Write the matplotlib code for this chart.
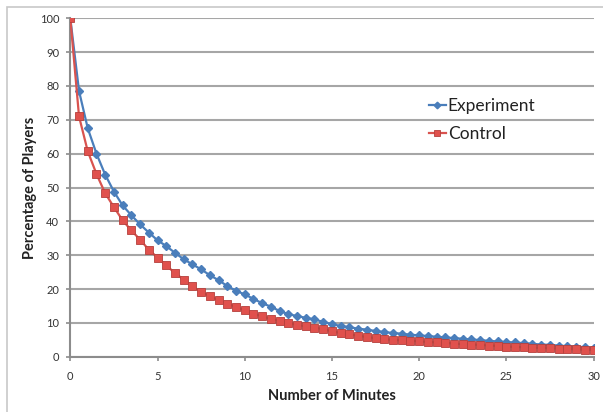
import matplotlib
matplotlib.use("Agg")
import matplotlib.pyplot as plt
from matplotlib.patches import Rectangle

plt.rcParams['font.family'] = ['Lato', 'DejaVu Sans']

# data, one point every half minute
minutes = [0, 0.5, 1, 1.5, 2, 2.5, 3, 3.5, 4, 4.5, 5, 5.5, 6, 6.5, 7, 7.5,
           8, 8.5, 9, 9.5, 10, 10.5, 11, 11.5, 12, 12.5, 13, 13.5, 14, 14.5,
           15, 15.5, 16, 16.5, 17, 17.5, 18, 18.5, 19, 19.5, 20, 20.5, 21,
           21.5, 22, 22.5, 23, 23.5, 24, 24.5, 25, 25.5, 26, 26.5, 27, 27.5,
           28, 28.5, 29, 29.5, 30]

experiment = [100, 78.5, 67.5, 60, 53.8, 48.8, 44.7, 41.8, 39.1, 36.7, 34.4,
              32.7, 30.7, 28.8, 27.3, 25.8, 24.1, 22.6, 20.9, 19.5, 18.4,
              17.1, 15.8, 14.8, 13.5, 12.6, 12.0, 11.5, 11.0, 10.3, 9.6, 9.1,
              8.7, 8.3, 8.0, 7.6, 7.3, 7.0, 6.8, 6.5, 6.3, 6.1, 5.9, 5.7, 5.5,
              5.3, 5.1, 4.9, 4.7, 4.5, 4.3, 4.2, 4.0, 3.8, 3.6, 3.5, 3.3, 3.1,
              3.0, 2.8, 2.7]

control = [100, 71, 60.7, 54, 48.3, 44.2, 40.3, 37.3, 34.6, 31.6, 29.3, 27.0,
           24.7, 22.8, 20.8, 19.1, 17.9, 16.7, 15.7, 14.7, 13.7, 12.7, 11.9,
           11.2, 10.5, 9.9, 9.4, 9.0, 8.6, 8.1, 7.5, 7.0, 6.6, 6.2, 5.8, 5.5,
           5.2, 5.0, 4.8, 4.7, 4.5, 4.4, 4.2, 4.1, 3.9, 3.7, 3.6, 3.5, 3.3,
           3.2, 3.0, 2.9, 2.8, 2.7, 2.6, 2.5, 2.4, 2.3, 2.2, 2.1, 2.0]

x_ticks = [0, 5, 10, 15, 20, 25, 30]
y_ticks = [0, 10, 20, 30, 40, 50, 60, 70, 80, 90, 100]

blue = '#4a7ebb'
red = '#d9534f'
grid_gray = '#a6a6a6'
axis_gray = '#8c8c8c'

fig = plt.figure(figsize=(6.03, 4.12), dpi=100)
fig.patch.set_facecolor('white')
# chart border, only top and left visible in the crop
fig.patches.append(Rectangle((7 / 603, -0.1), 1.2, 1 - 7 / 412 + 0.1,
                             transform=fig.transFigure, fill=False,
                             edgecolor='#c8c8c8', linewidth=1.2))

ax = fig.add_axes([0.1166, 0.1342, 0.8677, 0.8214])

ax.plot(minutes, experiment, color=blue, linewidth=1.6, marker='D',
        markersize=4.2, markerfacecolor=blue, markeredgecolor=blue,
        label='Experiment', zorder=3)
ax.plot(minutes, control, color=red, linewidth=1.6, marker='s',
        markersize=6, markerfacecolor='#e0514d', markeredgecolor='#b5403c',
        markeredgewidth=0.6, label='Control', zorder=4)

ax.set_xlim(0, 30)
ax.set_ylim(0, 100)
ax.set_xticks(x_ticks)
ax.set_yticks(y_ticks)
ax.yaxis.grid(True, color=grid_gray, linewidth=1.5)
ax.set_axisbelow(True)
ax.spines['top'].set_visible(False)
ax.spines['right'].set_visible(False)
ax.spines['left'].set_color(axis_gray)
ax.spines['bottom'].set_color(axis_gray)
ax.spines['left'].set_linewidth(1.5)
ax.spines['bottom'].set_linewidth(1.5)
ax.tick_params(axis='both', colors=axis_gray, labelcolor='#333333',
               labelsize=8, length=3, width=1.2)
ax.tick_params(axis='x', pad=7)
ax.tick_params(axis='y', pad=5)

ax.set_xlabel('Number of Minutes', fontsize=10.5, fontweight='bold',
              color='#222222', labelpad=5)
ax.set_ylabel('Percentage of Players', fontsize=10.5, fontweight='bold',
              color='#222222', labelpad=2)

ax.legend(loc='upper left', bbox_to_anchor=(0.655, 0.81), frameon=False,
          fontsize=12.5, handlelength=1.0, handletextpad=0.1,
          labelspacing=0.7, markerscale=0.8, labelcolor='#222222')

fig.savefig('out.png', dpi=100, facecolor='white')
